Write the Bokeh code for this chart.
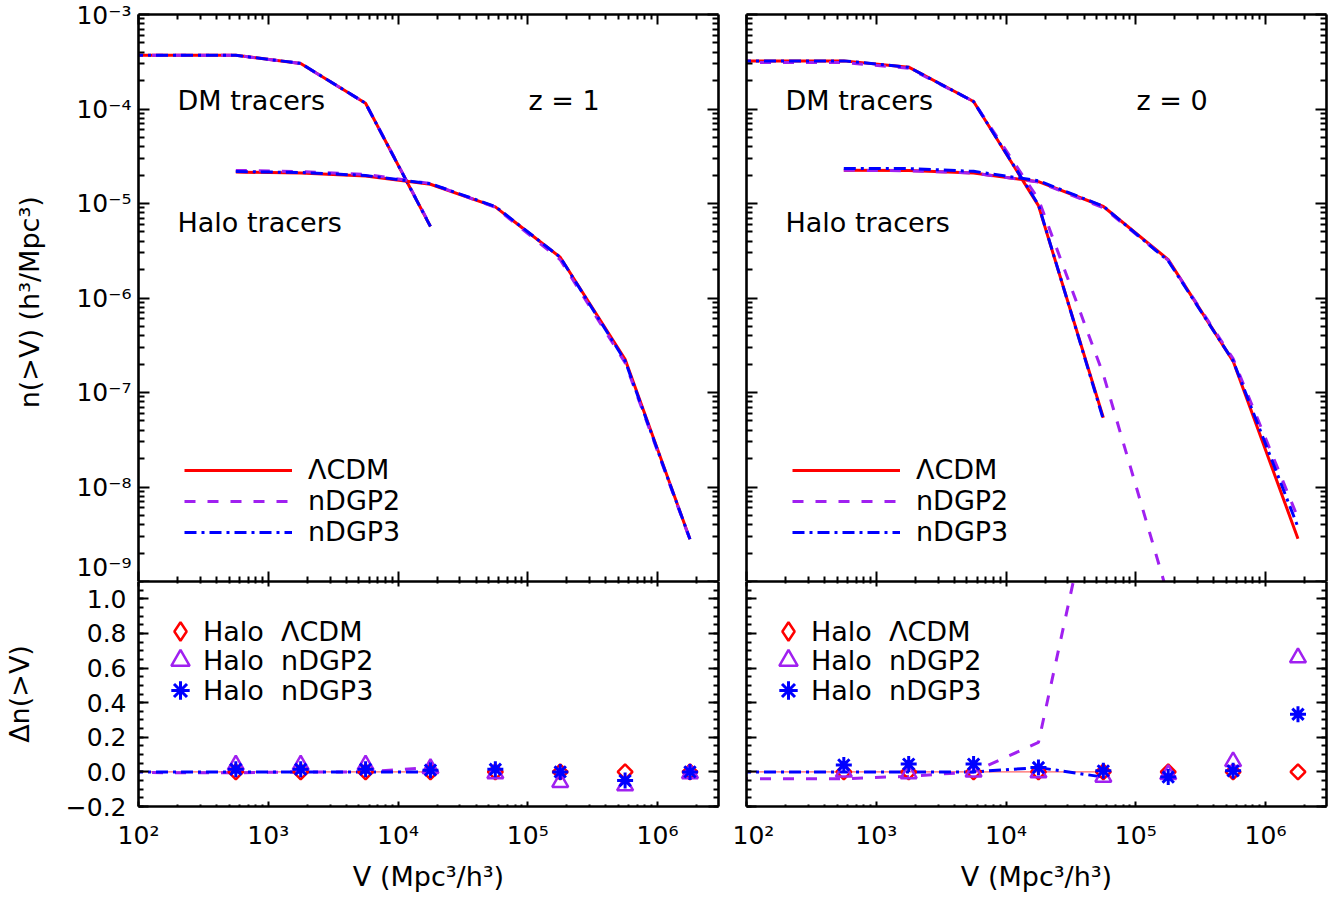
import math
from bokeh.plotting import figure
from bokeh.models import (LogAxis, LinearAxis, FixedTicker, CustomJSTickFormatter,
                          Range1d, Legend, LegendItem, Label, Grid)
from bokeh.layouts import row, column
from bokeh.embed import file_html
from bokeh.resources import INLINE

# ---------------- data ----------------
V_DM = [56.2, 177.8, 562.3, 1778.3, 5623.4, 17783.0, 56234.0, 177828.0]
V_HALO = [562.3, 1778.3, 5623.4, 17783.0, 56234.0, 177828.0, 562341.0, 1778279.0]

# z = 1 cumulative abundances n(>V)
dm_z1_lcdm = [3.70e-4, 3.70e-4, 3.70e-4, 3.03e-4, 1.15e-4, 5.7e-6]
dm_z1_ndgp2 = [3.70e-4, 3.70e-4, 3.70e-4, 3.03e-4, 1.15e-4, 5.8e-6]
dm_z1_ndgp3 = [3.70e-4, 3.70e-4, 3.70e-4, 3.04e-4, 1.15e-4, 5.7e-6]
halo_z1_lcdm = [2.15e-5, 2.10e-5, 1.95e-5, 1.60e-5, 9.2e-6, 2.70e-6, 2.25e-7, 2.80e-9]
halo_z1_ndgp2 = [2.24e-5, 2.18e-5, 2.03e-5, 1.63e-5, 9.1e-6, 2.54e-6, 2.07e-7, 2.77e-9]
halo_z1_ndgp3 = [2.18e-5, 2.13e-5, 1.98e-5, 1.62e-5, 9.3e-6, 2.70e-6, 2.16e-7, 2.80e-9]

# z = 0 cumulative abundances n(>V)
dm_z0_lcdm = [3.23e-4, 3.23e-4, 3.23e-4, 2.77e-4, 1.20e-4, 9.5e-6, 5.4e-8]
dm_z0_ndgp2 = [3.10e-4, 3.10e-4, 3.10e-4, 2.70e-4, 1.20e-4, 1.11e-5, 1.55e-7, 7.0e-10]
dm_z0_ndgp3 = [3.23e-4, 3.23e-4, 3.23e-4, 2.77e-4, 1.20e-4, 9.7e-6, 5.2e-8]
halo_z0_lcdm = [2.25e-5, 2.24e-5, 2.10e-5, 1.70e-5, 9.3e-6, 2.55e-6, 2.15e-7, 2.83e-9]
halo_z0_ndgp2 = [2.25e-5, 2.22e-5, 2.10e-5, 1.69e-5, 9.0e-6, 2.51e-6, 2.28e-7, 4.70e-9]
halo_z0_ndgp3 = [2.34e-5, 2.34e-5, 2.19e-5, 1.74e-5, 9.36e-6, 2.47e-6, 2.16e-7, 3.77e-9]

# relative differences, DM tracers (lines)
ddm_z1_lcdm = [0.0, 0.0, 0.0, 0.0, 0.0, 0.0]
ddm_z1_ndgp2 = [0.0, -0.005, -0.005, 0.0, 0.0, 0.025]
ddm_z1_ndgp3 = [0.0, 0.0, 0.0, 0.0, 0.0, 0.0]
ddm_z0_lcdm = [0.0, 0.0, 0.0, 0.0, 0.0, 0.0, 0.0]
ddm_z0_ndgp2 = [-0.04, -0.04, -0.04, -0.025, 0.0, 0.17, 1.9]
ddm_z0_ndgp3 = [0.0, 0.0, 0.0, 0.0, 0.0, 0.025, -0.03]

# relative differences, halo tracers (markers)
dh_z1_lcdm = [0.0, 0.0, 0.0, 0.0, 0.0, 0.0, 0.0, 0.0]
dh_z1_ndgp2 = [0.04, 0.04, 0.04, 0.02, -0.01, -0.06, -0.08, -0.01]
dh_z1_ndgp3 = [0.015, 0.015, 0.015, 0.01, 0.015, 0.0, -0.05, 0.0]
dh_z0_lcdm = [0.0, 0.0, 0.0, 0.0, 0.0, 0.0, 0.0, 0.0]
dh_z0_ndgp2 = [0.0, -0.01, 0.0, -0.005, -0.03, -0.015, 0.06, 0.66]
dh_z0_ndgp3 = [0.04, 0.045, 0.045, 0.025, 0.006, -0.03, 0.006, 0.333]

# ticks
x_major = [1e2, 1e3, 1e4, 1e5, 1e6]
x_major_labels = ["10²", "10³", "10⁴", "10⁵", "10⁶"]
y_major = [1e-9, 1e-8, 1e-7, 1e-6, 1e-5, 1e-4, 1e-3]
y_major_labels = ["10⁻⁹", "10⁻⁸", "10⁻⁷", "10⁻⁶", "10⁻⁵", "10⁻⁴", "10⁻³"]
d_major = [-0.2, 0.0, 0.2, 0.4, 0.6, 0.8, 1.0]
d_major_labels = ["−0.2", "0.0", "0.2", "0.4", "0.6", "0.8", "1.0"]

# ---------------- style ----------------
FONT = "DejaVu Sans"
TICK_FS = "25px"
TEXT_FS = "27px"
RED = "#ff0000"
PURPLE = "#a020f0"
BLUE = "#0000ff"
DASH = "11 12"
DASHDOT = "12 5 3 5"
X_MIN, X_MAX = 1e2, 2.95e6
FW = 580
TOP_H, BOT_H = 567, 225

x_minor = [m * d for d in [1e2, 1e3, 1e4, 1e5, 1e6] for m in range(2, 10) if m * d <= X_MAX]
y_minor = [m * d for d in [1e-9, 1e-8, 1e-7, 1e-6, 1e-5, 1e-4] for m in range(2, 10)]
d_minor = [round(-0.2 + 0.05 * i, 2) for i in range(27)]

blank = CustomJSTickFormatter(code="return ''")


def style_axis(ax, tick_len, labels):
    ax.axis_line_width = 2.6
    ax.axis_line_color = "black"
    ax.major_tick_line_width = 2
    ax.minor_tick_line_width = 2
    ax.major_tick_in = int(tick_len)
    ax.major_tick_out = 0
    ax.minor_tick_in = int(round(tick_len / 2))
    ax.minor_tick_out = 0
    ax.major_label_text_font = FONT
    ax.major_label_text_font_size = TICK_FS
    ax.major_label_text_color = "black"
    ax.axis_label_text_font = FONT
    ax.axis_label_text_font_size = TEXT_FS
    ax.axis_label_text_font_style = "normal"
    ax.axis_label_text_color = "black"
    if labels is None:
        ax.formatter = blank
        ax.major_label_standoff = 0


def make_fig(top, left_col):
    p = figure(
        x_axis_type="log", y_axis_type="log" if top else "linear",
        x_axis_location=None, y_axis_location=None,
        x_range=Range1d(X_MIN, X_MAX),
        y_range=Range1d(1e-9, 1e-3) if top else Range1d(-0.2, 1.1),
        frame_width=FW, frame_height=TOP_H if top else BOT_H,
        toolbar_location=None, output_backend="svg",
        background_fill_color="white", border_fill_color="white",
        outline_line_color=None,
    )
    p.center = [r for r in p.center if not isinstance(r, Grid)]
    p.min_border_left = 137 if left_col else 14
    p.min_border_right = 14 if left_col else 9
    p.min_border_top = 14 if top else 0
    p.min_border_bottom = 0 if top else 99

    xt_len = 10 if top else 5
    for loc in ["below", "above"]:
        show = (loc == "below" and not top)
        ax = LogAxis(ticker=FixedTicker(ticks=x_major, minor_ticks=x_minor))
        style_axis(ax, xt_len, x_major_labels if show else None)
        if show:
            ax.major_label_overrides = dict(zip(x_major, x_major_labels))
            ax.major_label_standoff = 14
            ax.axis_label = "V (Mpc³/h³)"
            ax.axis_label_standoff = 8
        p.add_layout(ax, loc)

    for loc in ["left", "right"]:
        show = (loc == "left" and left_col)
        if top:
            ax = LogAxis(ticker=FixedTicker(ticks=y_major, minor_ticks=y_minor))
            style_axis(ax, 11, y_major_labels if show else None)
            if show:
                ax.major_label_overrides = dict(zip(y_major, y_major_labels))
                ax.major_label_standoff = 7
                ax.axis_label = "n(>V)  (h³/Mpc³)"
                ax.axis_label_standoff = 28
        else:
            ax = LinearAxis(ticker=FixedTicker(ticks=d_major, minor_ticks=d_minor))
            style_axis(ax, 10, d_major_labels if show else None)
            if show:
                ax.major_label_overrides = dict(zip(d_major, d_major_labels))
                ax.major_label_standoff = 12
                ax.axis_label = "Δn(>V)"
                ax.axis_label_standoff = 28
        p.add_layout(ax, loc)
    return p


def top_panel(left_col, dm, halo, ztext):
    p = make_fig(True, left_col)
    rs = []
    for arr, col, dash in zip(dm, [RED, PURPLE, BLUE], ["solid", DASH, DASHDOT]):
        p.line(V_DM[:len(arr)], arr, line_color=col, line_width=3, line_dash=dash)
    for arr, col, dash in zip(halo, [RED, PURPLE, BLUE], ["solid", DASH, DASHDOT]):
        rs.append(p.line(V_HALO, arr, line_color=col, line_width=3, line_dash=dash))
    leg = Legend(items=[LegendItem(label="ΛCDM", renderers=[rs[0]]),
                        LegendItem(label="nDGP2", renderers=[rs[1]]),
                        LegendItem(label="nDGP3", renderers=[rs[2]])],
                 location=(46, 34), glyph_width=108, glyph_height=20, label_height=20,
                 label_standoff=16, spacing=0, padding=0, margin=0,
                 border_line_color=None, background_fill_alpha=0,
                 label_text_font=FONT, label_text_font_size=TEXT_FS,
                 label_text_color="black")
    p.add_layout(leg)
    for txt, x, y in [("DM tracers", 39, 481), ("Halo tracers", 39, 359), (ztext, 390, 481)]:
        p.add_layout(Label(x=x, y=y, x_units="screen", y_units="screen", text=txt,
                           text_font=FONT, text_font_size=TEXT_FS, text_baseline="alphabetic",
                           text_color="black"))
    return p


def bottom_panel(left_col, ddm, dh):
    p = make_fig(False, left_col)
    p.line(V_DM[:len(ddm[0])], ddm[0], line_color=RED, line_width=1.2, line_alpha=0.6)
    p.line(V_DM[:len(ddm[1])], ddm[1], line_color=PURPLE, line_width=3, line_dash=DASH)
    p.line(V_DM[:len(ddm[2])], ddm[2], line_color=BLUE, line_width=3, line_dash=DASHDOT)
    p.scatter(V_HALO, dh[0], marker="square", angle=math.pi / 4, size=10.5,
              fill_color=None, line_color=RED, line_width=2.5)
    # same series drawn as a diamond glyph, hidden, only used for the legend symbol
    r0 = p.scatter(V_HALO, dh[0], marker="diamond", size=16,
                   fill_color=None, line_color=RED, line_width=2.5, visible=False)
    r1 = p.scatter(V_HALO, dh[1], marker="triangle", size=16,
                   fill_color=None, line_color=PURPLE, line_width=2.5)
    r2 = p.scatter(V_HALO, dh[2], marker="asterisk", size=16,
                   line_color=BLUE, line_width=3)
    w = 46
    specs = [("Halo  ΛCDM", r0, 175), ("Halo  nDGP2", r1, 146), ("Halo  nDGP3", r2, 116)]
    for lab, r, yc in specs:
        leg = Legend(items=[LegendItem(label=lab, renderers=[r])],
                     location=(19, yc - w / 2), glyph_width=w, glyph_height=w,
                     label_standoff=0, padding=0, margin=0, spacing=0,
                     border_line_color=None, background_fill_alpha=0,
                     inactive_fill_alpha=0,
                     label_text_font=FONT, label_text_font_size=TEXT_FS,
                     label_text_color="black")
        p.add_layout(leg)
    return p


p_tl = top_panel(True, [dm_z1_lcdm, dm_z1_ndgp2, dm_z1_ndgp3],
                 [halo_z1_lcdm, halo_z1_ndgp2, halo_z1_ndgp3], "z = 1")
p_tr = top_panel(False, [dm_z0_lcdm, dm_z0_ndgp2, dm_z0_ndgp3],
                 [halo_z0_lcdm, halo_z0_ndgp2, halo_z0_ndgp3], "z = 0")
p_bl = bottom_panel(True, [ddm_z1_lcdm, ddm_z1_ndgp2, ddm_z1_ndgp3],
                    [dh_z1_lcdm, dh_z1_ndgp2, dh_z1_ndgp3])
p_br = bottom_panel(False, [ddm_z0_lcdm, ddm_z0_ndgp2, ddm_z0_ndgp3],
                    [dh_z0_lcdm, dh_z0_ndgp2, dh_z0_ndgp3])

layout = row(column(p_tl, p_bl, spacing=0), column(p_tr, p_br, spacing=0), spacing=0)

open("out.html", "w").write(file_html(layout, INLINE, title="n(>V)"))
